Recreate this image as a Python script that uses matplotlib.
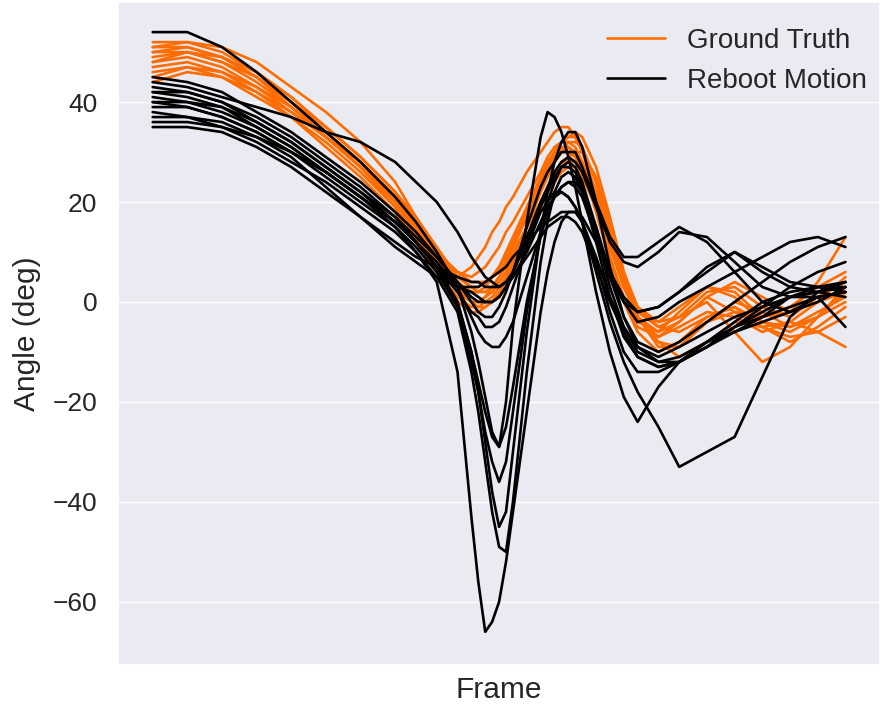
import matplotlib
matplotlib.use("Agg")
import matplotlib.pyplot as plt
import seaborn as sns

sns.set_theme(style="darkgrid")
plt.rcParams["font.family"] = ["Liberation Sans", "DejaVu Sans"]

# sample frames shared by every trial
frames = [0, 5, 10, 15, 20, 25, 30, 35, 38, 41, 44, 46, 47, 48, 49, 50, 51, 52,
          54, 56, 57, 58, 59, 60, 61, 62, 64, 66, 68, 70, 73, 76, 80, 84, 88, 92, 96, 100]

# ground truth trials (deg)
gt_trials = [
    [48, 49, 47, 43, 38, 33, 27, 20, 14, 8, 3, 2, 2, 3, 5, 7, 9, 12, 18, 24, 27, 29, 30, 30, 29, 27, 20, 11, 3, -3, -7, -5, -2, -3, -6, -4, 0, 2],
    [50, 51, 49, 45, 40, 34, 28, 20, 14, 8, 5, 7, 9, 11, 14, 16, 19, 21, 26, 30, 32, 34, 35, 35, 33, 30, 22, 12, 3, -3, -6, -4, 1, -2, -5, -7, -6, -3],
    [51, 52, 51, 48, 43, 38, 32, 24, 17, 10, 4, 2, 2, 3, 5, 7, 10, 13, 19, 25, 28, 30, 32, 33, 33, 31, 24, 14, 4, -3, -8, -9, -4, -2, -3, -1, 3, 6],
    [46, 47, 45, 41, 37, 32, 26, 19, 13, 6, 0, -2, -2, -1, 0, 2, 4, 7, 13, 20, 23, 26, 28, 29, 28, 26, 19, 9, 0, -6, -10, -8, -3, -1, -4, -6, -3, 0],
    [52, 52, 50, 46, 41, 35, 29, 22, 16, 10, 5, 3, 3, 4, 5, 7, 9, 12, 18, 23, 26, 28, 30, 31, 30, 28, 22, 13, 4, -2, -5, -3, 2, 3, -1, -3, 1, 4],
    [44, 46, 45, 42, 37, 31, 25, 18, 12, 6, 1, -1, -1, 0, 1, 3, 5, 8, 13, 19, 22, 24, 26, 27, 27, 25, 19, 11, 3, -3, -8, -11, -8, -4, -5, -4, -6, -9],
    [49, 50, 48, 44, 39, 34, 28, 21, 16, 10, 6, 5, 6, 7, 9, 11, 14, 16, 21, 26, 29, 31, 32, 32, 31, 28, 19, 9, 1, -4, -6, -2, 3, 2, -3, -2, 4, 13],
    [47, 48, 46, 42, 38, 33, 28, 21, 15, 8, 2, 0, 0, 1, 2, 4, 6, 9, 15, 22, 25, 28, 30, 32, 32, 31, 24, 14, 5, -1, -4, -3, 0, -6, -12, -9, -3, 3],
    [50, 50, 48, 45, 40, 35, 29, 22, 17, 11, 5, 3, 2, 2, 3, 5, 7, 10, 15, 20, 23, 25, 27, 28, 28, 27, 21, 12, 4, -2, -4, -1, 3, 1, -4, -5, -2, 1],
    [45, 47, 46, 43, 39, 33, 27, 19, 13, 7, 2, 0, 0, 1, 3, 5, 8, 11, 17, 24, 27, 30, 32, 33, 34, 33, 27, 17, 6, -3, -9, -9, -4, 0, -2, -5, -3, 2],
    [48, 50, 49, 46, 41, 35, 29, 22, 16, 9, 3, 0, -1, -1, 0, 1, 3, 6, 12, 19, 22, 25, 27, 29, 30, 30, 25, 16, 6, -1, -5, -6, -3, -1, -5, -8, -5, -1],
    [51, 51, 49, 45, 39, 33, 27, 20, 15, 10, 6, 4, 4, 4, 5, 6, 8, 11, 17, 24, 27, 29, 31, 31, 29, 27, 18, 8, 0, -5, -7, -4, 1, 4, 1, -2, 0, 5],
]

# reboot motion trials (deg)
rm_trials = [
    [54, 54, 51, 46, 40, 34, 28, 21, 16, 10, 3, -6, -12, -19, -26, -29, -20, -5, 16, 33, 38, 37, 34, 29, 23, 16, 2, -10, -19, -24, -17, -12, -8, -4, 0, 2, 3, 3],
    [41, 40, 38, 35, 31, 26, 21, 15, 10, 4, -14, -43, -56, -66, -64, -60, -52, -42, -22, -2, 6, 12, 16, 18, 18, 16, 9, 1, -5, -9, -12, -12, -9, -5, -2, 1, 3, 4],
    [38, 37, 35, 32, 28, 24, 19, 14, 10, 5, -2, -14, -22, -32, -42, -49, -50, -40, -14, 8, 16, 22, 25, 26, 25, 22, 12, 1, -7, -11, -13, -12, -9, -6, -3, 1, 1, -5],
    [43, 42, 40, 36, 32, 27, 22, 17, 12, 7, 0, -10, -18, -28, -38, -45, -42, -30, -6, 14, 22, 28, 32, 34, 34, 31, 20, 7, -3, -9, -11, -9, -6, -3, -1, 1, 2, 3],
    [40, 39, 37, 34, 30, 25, 20, 15, 11, 6, -1, -12, -18, -26, -32, -36, -32, -22, -2, 14, 20, 24, 27, 28, 27, 24, 15, 5, -3, -8, -10, -8, -4, 0, 4, 8, 11, 13],
    [36, 36, 35, 33, 30, 26, 21, 16, 12, 7, 0, -10, -16, -22, -27, -29, -25, -17, 0, 13, 18, 21, 22, 21, 19, 16, 8, -2, -10, -14, -14, -12, -8, -5, -3, -1, 1, 2],
    [42, 41, 39, 35, 31, 26, 21, 16, 12, 8, 3, -3, -6, -8, -9, -9, -7, -4, 5, 14, 18, 21, 23, 24, 24, 22, 15, 6, 0, -4, -3, 0, 3, 6, 9, 12, 13, 11],
    [37, 37, 36, 33, 29, 23, 17, 11, 8, 5, 3, 3, 3, 4, 5, 6, 7, 9, 12, 15, 16, 17, 18, 18, 18, 17, 12, 6, 1, -2, -1, 2, 6, 10, 7, 4, 3, 2],
    [44, 43, 41, 39, 37, 34, 32, 28, 24, 20, 14, 9, 7, 5, 4, 3, 4, 6, 12, 19, 22, 25, 27, 27, 26, 23, 14, 3, -5, -10, -12, -11, -8, -6, -4, -2, 1, 2],
    [35, 35, 34, 31, 27, 22, 17, 12, 9, 7, 5, 4, 4, 3, 3, 3, 4, 5, 9, 13, 15, 16, 17, 17, 16, 14, 7, 0, -6, -11, -13, -12, -9, -5, -1, 3, 6, 8],
    [39, 39, 37, 34, 30, 26, 21, 16, 12, 7, 2, -2, -3, -5, -5, -4, -1, 3, 11, 18, 20, 22, 22, 21, 19, 16, 6, -4, -12, -18, -25, -33, -30, -27, -15, -3, 2, 4],
    [42, 42, 40, 37, 33, 28, 23, 17, 13, 9, 4, 0, -2, -3, -3, -1, 2, 6, 15, 23, 26, 28, 30, 30, 30, 27, 20, 13, 9, 9, 12, 15, 12, 6, 0, -2, 0, 3],
    [40, 40, 39, 36, 32, 27, 22, 16, 12, 7, 3, 2, 1, 0, 0, 1, 3, 6, 13, 20, 23, 26, 28, 29, 28, 26, 19, 12, 8, 7, 10, 14, 13, 8, 3, 1, 2, 4],
    [45, 44, 42, 38, 34, 29, 24, 18, 14, 9, 4, 1, 0, 0, 0, 1, 3, 5, 10, 16, 19, 21, 23, 24, 23, 21, 13, 5, 0, -2, -1, 2, 7, 10, 6, 3, 2, 1],
]

gt_color = "#ff6d00"
rm_color = "black"

fig, ax = plt.subplots(figsize=(8.81, 7.08), dpi=100)
fig.subplots_adjust(left=0.134, right=0.999, top=0.997, bottom=0.061)

for i, tr in enumerate(gt_trials):
    ax.plot(frames, tr, color=gt_color, lw=1.9,
            label="Ground Truth" if i == 0 else None)
for i, tr in enumerate(rm_trials):
    ax.plot(frames, tr, color=rm_color, lw=1.9,
            label="Reboot Motion" if i == 0 else None)

ax.set_ylim(-72.6, 60)
ax.set_yticks([-60, -40, -20, 0, 20, 40])
ax.set_xticks([])
ax.tick_params(axis="y", labelsize=19, length=0, pad=15)
ax.set_xlabel("Frame", fontsize=21.5, labelpad=8)
ax.set_ylabel("Angle (deg)", fontsize=21.5, labelpad=8)
ax.legend(loc="upper right", frameon=False, fontsize=20,
          bbox_to_anchor=(1.016, 0.999), handlelength=2.1)

fig.savefig("out.png", dpi=100)
